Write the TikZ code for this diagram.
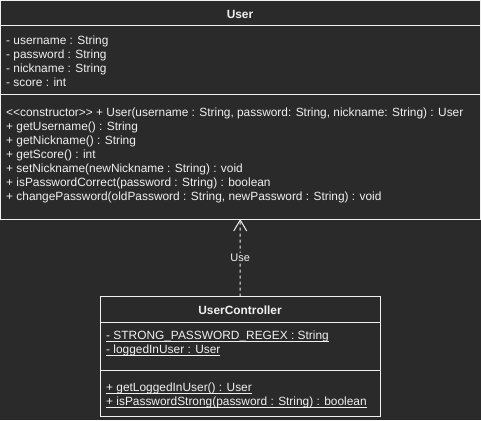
\documentclass[tikz,border=0pt]{standalone}
\usepackage{fontspec}
\setmainfont{Liberation Sans}
\usetikzlibrary{arrows.meta}
\definecolor{umlbg}{RGB}{42,42,42}
\definecolor{umlink}{RGB}{240,240,240}
% underline at a fixed depth, as static members are shown
\newcommand{\umlul}[1]{\setbox0=\hbox{#1}\rlap{\vrule width\wd0 height -1.3pt depth 2.1pt}\box0}

\tikzset{
  umlbox/.style={draw=umlink, fill=umlbg, line width=1pt, inner sep=0pt, outer sep=0pt},
  umltext/.style={anchor=base west, text=umlink, inner sep=0pt, font=\fontsize{11.9}{14}\selectfont},
  umltitle/.style={anchor=base, text=umlink, inner sep=0pt, font=\bfseries\fontsize{11.9}{14}\selectfont},
  usearrow/.style={draw=umlink, line width=1pt, dash pattern=on 3pt off 3pt,
    -{Straight Barb[length=11pt,width=13pt,line width=1pt]}}
}

\begin{document}
\begin{tikzpicture}[x=1pt,y=-1pt]
% Background
\fill[umlbg] (0,0) rectangle (481,420);

% User class
\node[umlbox, minimum width=479.5pt, minimum height=218.5pt] (user) at (240.25,109.75) {};
\node[umltitle] (usertitle) at (240,18.3) {User};
\draw[umlink, line width=1pt] (0.5,26) -- (480,26);
\draw[umlink, line width=1pt] (0.5,94) -- (480,94);
\foreach \t [count=\i] in {{- username : String}, {- password : String},
    {- nickname : String}, {- score : int}}
  \node[umltext] (userattr\i) at (6,30.5+14*\i) {\t};
\foreach \t [count=\i] in {
    {<{}<constructor>{}> + User(username : String, password: String, nickname: String) : User},
    {+ getUsername() : String},
    {+ getNickname() : String},
    {+ getScore() : int},
    {+ setNickname(newNickname : String) : void},
    {+ isPasswordCorrect(password : String) : boolean},
    {+ changePassword(oldPassword : String, newPassword : String) : void}}
  \node[umltext] (usermeth\i) at (6,102.5+14*\i) {\t};

% UserController class
\node[umlbox, minimum width=280pt, minimum height=119.5pt] (ctrl) at (240,356.25) {};
\node[umltitle] (ctrltitle) at (240,314) {UserController};
\draw[umlink, line width=1pt] (100,322) -- (380,322);
\draw[umlink, line width=1pt] (100,370) -- (380,370);
\node[umltext] (ctrlattr1) at (106,339.3) {\umlul{- STRONG\_PASSWORD\_REGEX : String}};
\node[umltext] (ctrlattr2) at (106,353.5) {\umlul{- loggedInUser : User}};
\node[umltext] (ctrlmeth1) at (106,391.7) {\umlul{+ getLoggedInUser() : User}};
\node[umltext] (ctrlmeth2) at (106,405.9) {\umlul{+ isPasswordStrong(password : String) : boolean}};

% Dependency
\draw[usearrow] (ctrl.north) -- (user.south)
  node[midway, fill=umlbg, text=umlink, inner sep=1pt, font=\fontsize{11}{13}\selectfont] (uselbl) {Use};
\end{tikzpicture}
\end{document}
